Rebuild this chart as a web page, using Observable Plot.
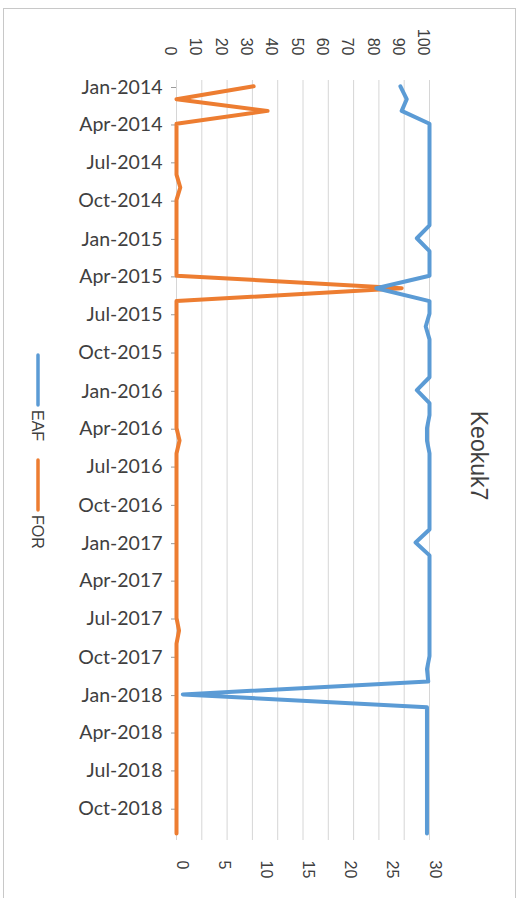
<!DOCTYPE html>
<html><head><meta charset="utf-8">
<script src="https://cdn.jsdelivr.net/npm/d3@7"></script>
<script src="https://cdn.jsdelivr.net/npm/@observablehq/plot@0.6"></script>
<style>
body{margin:0;background:#fff}
#wrap{position:relative;width:529px;height:898px;overflow:hidden}
#border{position:absolute;left:3px;top:8px;width:511px;height:900px;border:1px solid #c8c8c8;border-bottom:none;pointer-events:none}
</style>
</head><body><div id="wrap"><div id="border"></div></div>
<script>
const title = "Keokuk7";
const months = [
 "2014-01","2014-02","2014-03","2014-04","2014-05","2014-06","2014-07","2014-08","2014-09","2014-10","2014-11","2014-12",
 "2015-01","2015-02","2015-03","2015-04","2015-05","2015-06","2015-07","2015-08","2015-09","2015-10","2015-11","2015-12",
 "2016-01","2016-02","2016-03","2016-04","2016-05","2016-06","2016-07","2016-08","2016-09","2016-10","2016-11","2016-12",
 "2017-01","2017-02","2017-03","2017-04","2017-05","2017-06","2017-07","2017-08","2017-09","2017-10","2017-11","2017-12",
 "2018-01","2018-02","2018-03","2018-04","2018-05","2018-06","2018-07","2018-08","2018-09","2018-10","2018-11","2018-12"];
const eaf = [
 88.5,91,89,100,100,100,100,100,100,100,100,100,
 95,100,100,100,79,100,100,98.5,100,100,100,100,
 95,100,100,99,99,100,100,100,100,100,100,100,
 94.5,100,100,100,100,100,100,100,100,100,99,99.5,
 2.5,99,99,99,99,99,99,99,99,99,99,99];
const forr = [
 30.5,0,36,0,0,0,0,0,1.5,0,0,0,
 0,0,0,0,89,0,0,0,0,0,0,0,
 0,0,0,0,1.2,0,0,0,0,0,0,0,
 0,0,0,0,0,0,0,1,0,0,0,0,
 0,0,0,0,0,0,0,0,0,0,0,0];
const seriesNames = ["EAF","FOR"];
const seriesColors = ["#5B9BD5","#ED7D31"];
const primaryTicks = [0,10,20,30,40,50,60,70,80,90,100];
const secondaryTicks = [0,5,10,15,20,25,30];
const quarterTicks = ["2014-01","2014-04","2014-07","2014-10","2015-01","2015-04","2015-07","2015-10",
 "2016-01","2016-04","2016-07","2016-10","2017-01","2017-04","2017-07","2017-10",
 "2018-01","2018-04","2018-07","2018-10"];

const toDate = (s, day) => { const [y,m] = s.split("-").map(Number); return new Date(Date.UTC(y, m-1, day)); };
const rows = [];
months.forEach((m,i) => {
  rows.push({series:"EAF", date:toDate(m,15), v:eaf[i]});
  rows.push({series:"FOR", date:toDate(m,15), v:forr[i]});
});
const tickDates = quarterTicks.map(s => toDate(s,1));
const fmt = d3.utcFormat("%b-%Y");

const chart = Plot.plot({
  width:529, height:898,
  marginLeft:176, marginRight:100, marginTop:80, marginBottom:58,
  style:{background:"transparent", color:"#404040", fontFamily:"Liberation Sans, Arial, sans-serif"},
  x:{domain:[0,100], axis:null},
  y:{type:"utc", domain:[toDate("2014-01",1), toDate("2019-01",1)], reverse:true, axis:null},
  marks:[
    Plot.gridX(primaryTicks, {stroke:"#d6d6d6", strokeOpacity:1, strokeWidth:1}),
    Plot.axisY(tickDates, {anchor:"left", tickSize:5, tickPadding:9, tickFormat:fmt, fontSize:19.5, fontFamily:"Lato, sans-serif", fill:"#404040", stroke:"#9a9a9a", dy:7, label:null}),
    Plot.lineX(rows.filter(d=>d.series==="FOR"), {x:"v", y:"date", stroke:seriesColors[1], strokeWidth:4, strokeLinejoin:"round", strokeLinecap:"round"}),
    Plot.lineX(rows.filter(d=>d.series==="EAF"), {x:"v", y:"date", stroke:seriesColors[0], strokeWidth:4, strokeLinejoin:"round", strokeLinecap:"round"}),
    Plot.text(primaryTicks, {x:d=>d, frameAnchor:"top", dy:-25, rotate:90, textAnchor:"end", fontSize:16, fill:"#404040"}),
    Plot.text(secondaryTicks, {x:d=>d*100/30, frameAnchor:"bottom", dy:20, rotate:90, textAnchor:"start", fontSize:16, fill:"#404040"}),
    Plot.text([title], {frameAnchor:"right", dx:49, dy:-5, rotate:90, textAnchor:"middle", fontSize:23, fill:"#404040"})
  ]
});
document.getElementById("wrap").appendChild(chart);

// legend (rotated like the chart)
const svg = d3.select(chart);
const leg = svg.append("g").attr("text-anchor","start");
const legY = [355, 460];
seriesNames.forEach((name, i) => {
  leg.append("line").attr("x1",38).attr("x2",38).attr("y1",legY[i]).attr("y2",legY[i]+50)
    .attr("stroke",seriesColors[i]).attr("stroke-width",3.5).attr("stroke-linecap","round");
  leg.append("text").attr("transform",`translate(38,${legY[i]+55}) rotate(90)`)
    .attr("text-anchor","start").attr("dy","0.35em").attr("font-size",16).attr("fill","#404040")
    .attr("font-family","Liberation Sans, Arial, sans-serif").text(name);
});
</script>
</body></html>
